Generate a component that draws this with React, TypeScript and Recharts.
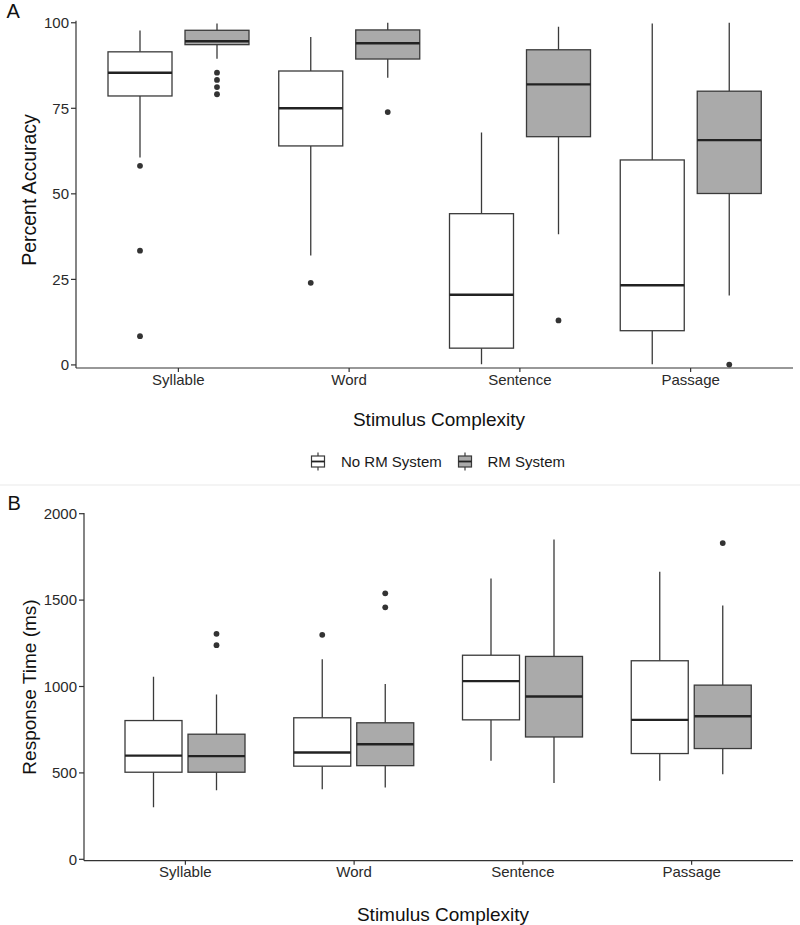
import React from "react";
import { ComposedChart, Bar, XAxis, YAxis } from "recharts";

const categories = ["Syllable", "Word", "Sentence", "Passage"];

// each box: [lower whisker, Q1, median, Q3, upper whisker]
const accuracyNoRM = [
  [60.6, 78.6, 85.4, 91.5, 97.7],
  [32.0, 64.0, 75.0, 85.9, 95.8],
  [0.2, 4.9, 20.5, 44.2, 67.9],
  [0.2, 10.0, 23.3, 59.9, 99.8],
];
const accuracyRM = [
  [89.5, 93.6, 94.6, 97.8, 99.8],
  [83.9, 89.4, 94.0, 97.9, 100],
  [38.2, 66.7, 82.0, 92.1, 98.8],
  [20.3, 50.1, 65.7, 80.0, 100],
];
const accuracyNoRMOutliers = [[58.2, 33.4, 8.4], [24.0], [], []];
const accuracyRMOutliers = [[85.4, 83.3, 81.2, 79.1], [73.9], [13.0], [0.1]];

const timeNoRM = [
  [301, 504, 600, 803, 1056],
  [405, 539, 618, 819, 1158],
  [571, 807, 1031, 1181, 1625],
  [454, 612, 807, 1149, 1664],
];
const timeRM = [
  [400, 504, 597, 724, 954],
  [415, 542, 666, 790, 1015],
  [442, 708, 942, 1174, 1851],
  [492, 641, 828, 1008, 1469],
];
const timeNoRMOutliers = [[], [1299], [], []];
const timeRMOutliers = [[1305, 1239], [1539, 1458], [], [1830]];

const accuracyTicks = [0, 25, 50, 75, 100];
const timeTicks = [0, 500, 1000, 1500, 2000];

const FONT = "'Liberation Sans', Arial, sans-serif";
const INK = "#333333";
const GREY = "#aaaaaa";

function buildRows(no: number[][], rm: number[][], noOut: number[][], rmOut: number[][]) {
  return categories.map((cat, i) => ({
    cat,
    noHi: Math.max(no[i][4], ...noOut[i]),
    rmHi: Math.max(rm[i][4], ...rmOut[i]),
    no: { stats: no[i], out: noOut[i] },
    rm: { stats: rm[i], out: rmOut[i] },
  }));
}

function BoxShape(props: any) {
  const { x, y, width, height, payload, group, hiKey, fill } = props;
  const hi = payload[hiKey];
  const base = y + height;
  const k = height / hi;
  const py = (v: number) => base - v * k;
  const [lo, q1, med, q3, up] = payload[group].stats;
  const cx = x + width / 2;
  return (
    <g>
      <line x1={cx} x2={cx} y1={py(up)} y2={py(q3)} stroke="#3a3a3a" strokeWidth={1.3} />
      <line x1={cx} x2={cx} y1={py(q1)} y2={py(lo)} stroke="#3a3a3a" strokeWidth={1.3} />
      <rect x={x} y={py(q3)} width={width} height={py(q1) - py(q3)} fill={fill} stroke="#3a3a3a" strokeWidth={1.3} />
      <line x1={x} x2={x + width} y1={py(med)} y2={py(med)} stroke="#222" strokeWidth={2.4} />
      {payload[group].out.map((v: number, j: number) => (
        <circle key={j} cx={cx} cy={py(v)} r={2.9} fill={INK} />
      ))}
    </g>
  );
}

function BoxPanel(p: any) {
  return (
    <ComposedChart
      width={800}
      height={p.height}
      data={p.rows}
      margin={{ top: p.top, right: 7, bottom: 0, left: 0 }}
      barGap={p.barGap}
    >
      <XAxis
        dataKey="cat"
        interval={0}
        padding={{ left: 17, right: 17 }}
        height={p.xHeight}
        tickSize={4}
        tickMargin={2}
        tick={{ fontSize: 15, fill: "#2a2a2a", fontFamily: FONT }}
        stroke={INK}
        strokeWidth={1.2}
      />
      <YAxis
        type="number"
        domain={p.domain}
        ticks={p.ticks}
        allowDataOverflow
        width={p.yWidth}
        tickSize={5}
        tickMargin={2}
        tick={{ fontSize: 15, fill: "#2a2a2a", fontFamily: FONT }}
        stroke={INK}
        strokeWidth={1.2}
      />
      <Bar
        dataKey="noHi"
        barSize={p.barSize}
        isAnimationActive={false}
        shape={(s: any) => <BoxShape {...s} group="no" hiKey="noHi" fill="#ffffff" />}
      />
      <Bar
        dataKey="rmHi"
        barSize={p.barSize}
        isAnimationActive={false}
        shape={(s: any) => <BoxShape {...s} group="rm" hiKey="rmHi" fill={GREY} />}
      />
    </ComposedChart>
  );
}

function LegendKey({ cx, fill }: { cx: number; fill: string }) {
  return (
    <g>
      <line x1={cx} x2={cx} y1={452.5} y2={470.5} stroke="#3a3a3a" strokeWidth={1.2} />
      <rect x={cx - 6.5} y={456} width={13} height={11} fill={fill} stroke="#3a3a3a" strokeWidth={1.2} />
      <line x1={cx - 6.5} x2={cx + 6.5} y1={461.5} y2={461.5} stroke="#222" strokeWidth={1.8} />
    </g>
  );
}

export default function App() {
  const accRows = buildRows(accuracyNoRM, accuracyRM, accuracyNoRMOutliers, accuracyRMOutliers);
  const timeRows = buildRows(timeNoRM, timeRM, timeNoRMOutliers, timeRMOutliers);

  return (
    <div style={{ position: "absolute", left: 0, top: 0, width: 800, height: 925, background: "#fff", fontFamily: FONT }}>
      <div style={{ position: "absolute", left: 0, top: 0 }}>
        <BoxPanel
          rows={accRows}
          height={440}
          top={20.7}
          xHeight={72}
          yWidth={76}
          domain={[-0.9, 100.6]}
          ticks={accuracyTicks}
          barSize={64}
          barGap={13}
        />
      </div>
      <div style={{ position: "absolute", left: 0, top: 487 }}>
        <BoxPanel
          rows={timeRows}
          height={438}
          top={26}
          xHeight={64.3}
          yWidth={84}
          domain={[-8, 2004]}
          ticks={timeTicks}
          barSize={57}
          barGap={6}
        />
      </div>
      <svg width={800} height={925} style={{ position: "absolute", left: 0, top: 0, pointerEvents: "none" }}>
        <text x={6.5} y={18.3} fontSize={20} fill="#111" fontFamily={FONT}>A</text>
        <text x={7.5} y={510} fontSize={20} fill="#111" fontFamily={FONT}>B</text>
        <text
          x={36}
          y={190}
          fontSize={19.5}
          fill="#111"
          textAnchor="middle"
          fontFamily={FONT}
          transform="rotate(-90 36 190)"
        >
          Percent Accuracy
        </text>
        <text
          x={36}
          y={687}
          fontSize={19}
          fill="#111"
          textAnchor="middle"
          fontFamily={FONT}
          transform="rotate(-90 36 687)"
        >
          Response Time (ms)
        </text>
        <text x={439} y={425.5} fontSize={19} fill="#111" textAnchor="middle" fontFamily={FONT}>
          Stimulus Complexity
        </text>
        <text x={443} y={920.5} fontSize={19} fill="#111" textAnchor="middle" fontFamily={FONT}>
          Stimulus Complexity
        </text>
        <LegendKey cx={318} fill="#ffffff" />
        <text x={341} y={467.2} fontSize={15} fill="#1a1a1a" fontFamily={FONT}>No RM System</text>
        <LegendKey cx={465} fill={GREY} />
        <text x={487.5} y={467.2} fontSize={15} fill="#1a1a1a" fontFamily={FONT}>RM System</text>
        <line x1={0} x2={800} y1={485} y2={485} stroke="#f0f0f0" strokeWidth={1.5} />
      </svg>
    </div>
  );
}
